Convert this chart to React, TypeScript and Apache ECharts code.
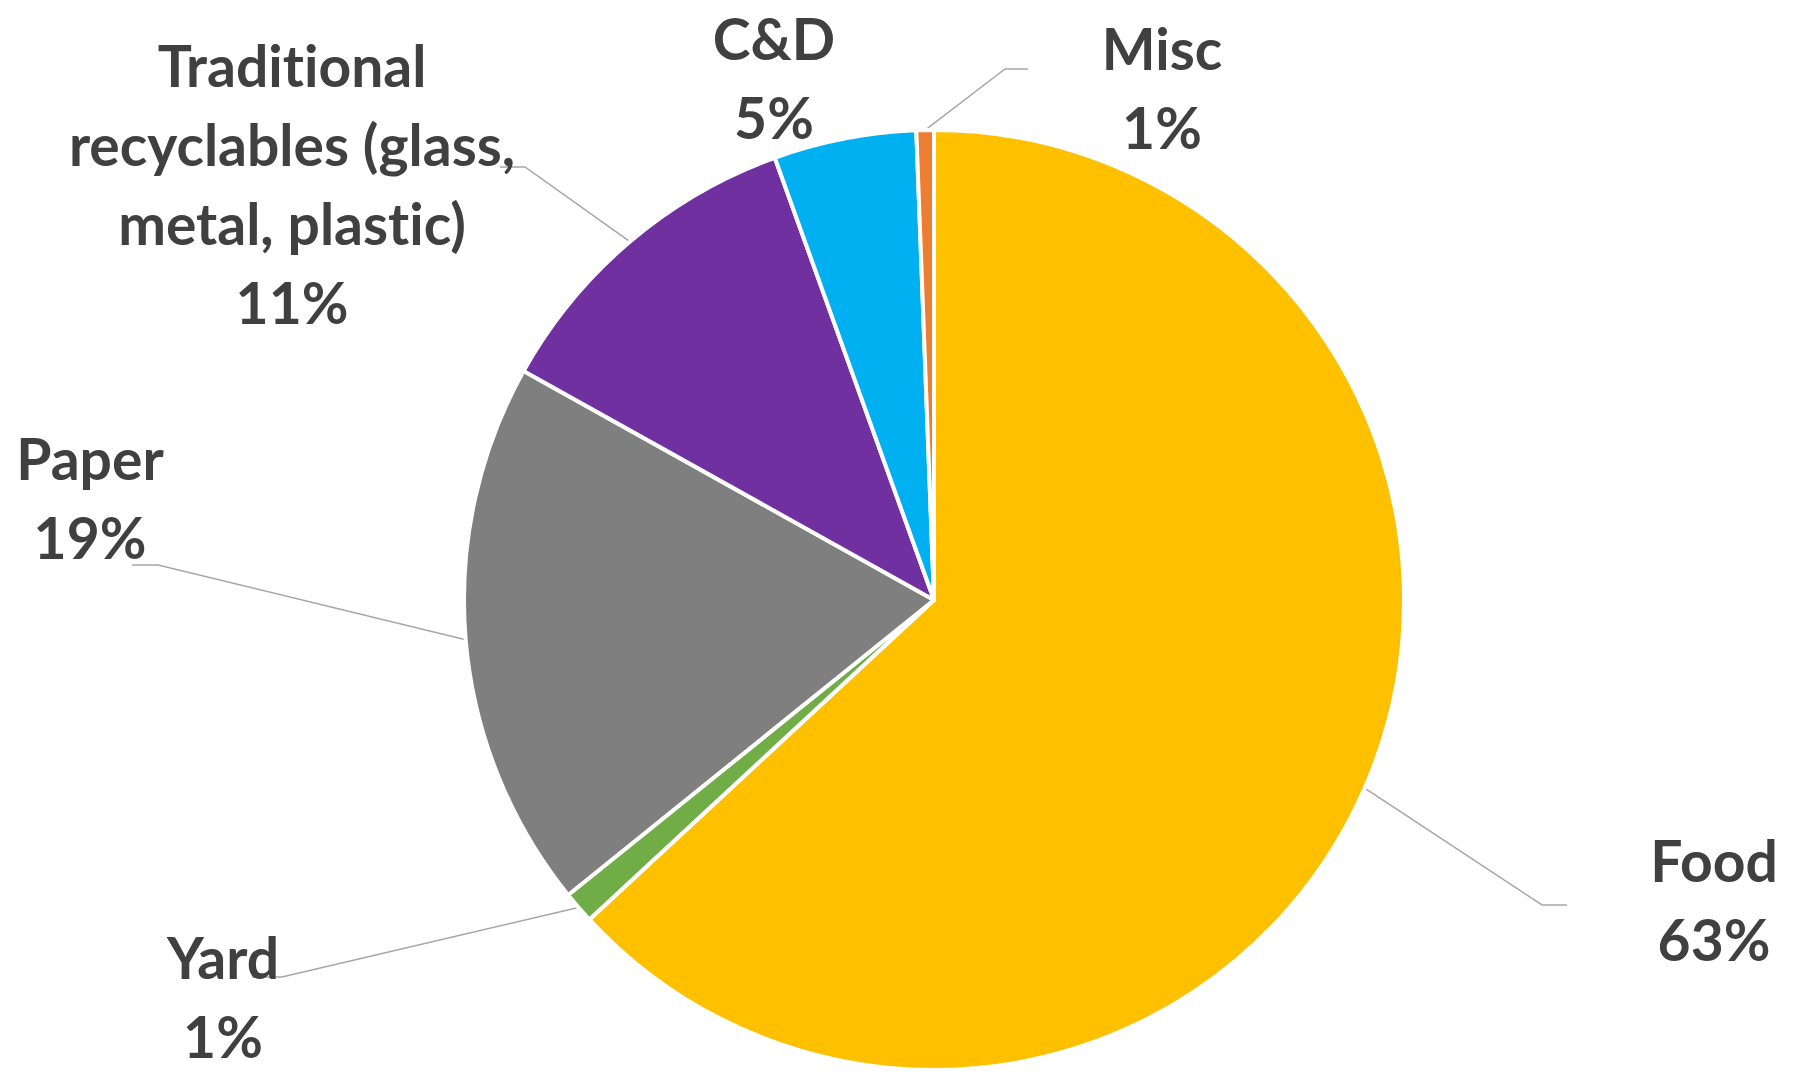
import React, { useEffect, useRef } from "react";
import * as echarts from "echarts";

// ---- data ----
const categories = [
  "Food",
  "Yard",
  "Paper",
  "Traditional\nrecyclables (glass,\nmetal, plastic)",
  "C&D",
  "Misc",
];
const shares = [63.1, 1.1, 18.9, 11.4, 4.9, 0.6];
const sliceColors = ["#FFC000", "#70AD47", "#7F7F7F", "#7030A0", "#00B0F0", "#ED7D31"];
const showLeader = [true, true, true, true, false, true];

// ---- label placement (layout, not data) ----
const labelPos: [number, number][] = [
  [1714, 899],
  [223, 996],
  [90, 497],
  [292, 183],
  [774, 77],
  [1162, 87],
];
const guideElbows: ([number, number][] | null)[] = [
  [[1542, 905], [1567, 905]],
  [[282, 977], [252, 977]],
  [[158, 565], [132, 565]],
  [[525, 167], [500, 167]],
  null,
  [[1005, 69], [1028, 69]],
];

export default function App() {
  const ref = useRef<HTMLDivElement>(null);
  useEffect(() => {
    if (!ref.current) return;
    const chart = echarts.init(ref.current, null, { renderer: "svg" });
    const data = categories.map((name, i) => ({
      name,
      value: shares[i],
      itemStyle: { color: sliceColors[i] },
      labelLine: { show: showLeader[i] },
    }));
    chart.setOption({
      animation: false,
      backgroundColor: "#ffffff",
      series: [
        {
          type: "pie",
          center: [934, 600],
          radius: 470,
          startAngle: 90,
          clockwise: true,
          silent: true,
          avoidLabelOverlap: false,
          itemStyle: { borderColor: "#ffffff", borderWidth: 4 },
          label: {
            show: true,
            position: "outside",
            formatter: (p: any) => `${p.name}\n${Math.round(p.percent)}%`,
            color: "#404040",
            fontFamily: "Lato",
            fontWeight: "bold",
            fontSize: 57,
            lineHeight: 79,
            align: "center",
          },
          labelLine: {
            show: true,
            length: 20,
            length2: 20,
            lineStyle: { color: "#A6A6A6", width: 1.5 },
          },
          labelLayout: (p: any) => {
            const i = p.dataIndex;
            const [x, y] = labelPos[i];
            const out: any = { x, y, align: "center", verticalAlign: "middle" };
            const g = guideElbows[i];
            if (g && p.labelLinePoints && p.labelLinePoints.length) {
              out.labelLinePoints = [p.labelLinePoints[0], g[0], g[1]];
            }
            return out;
          },
          emphasis: { disabled: true },
          data,
        },
      ],
    });
    return () => chart.dispose();
  }, []);
  return (
    <>
      <style>{`svg text { font-variant-ligatures: none !important; font-feature-settings: "liga" 0, "clig" 0 !important; }`}</style>
      <div
        ref={ref}
        style={{ position: "absolute", left: 0, top: 0, width: 1795, height: 1076 }}
      />
    </>
  );
}
